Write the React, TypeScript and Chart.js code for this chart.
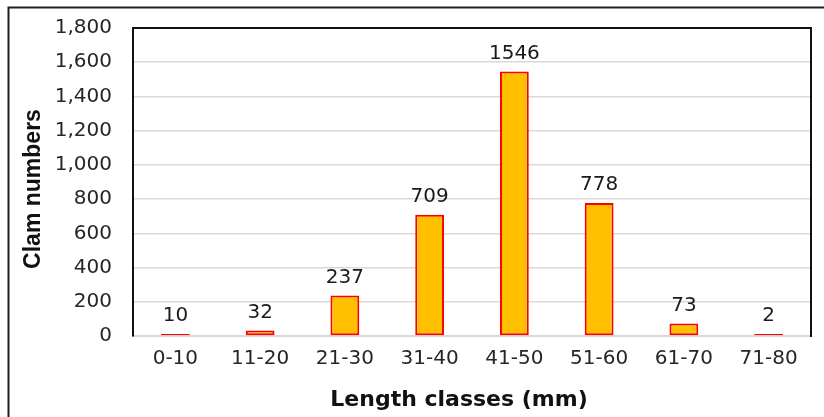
import React, { useEffect, useRef } from "react";
import { Chart, registerables } from "chart.js";

Chart.register(...registerables);

const categories = ["0-10", "11-20", "21-30", "31-40", "41-50", "51-60", "61-70", "71-80"];
const clamNumbers = [10, 32, 237, 709, 1546, 778, 73, 2];
const yMin = 0;
const yMax = 1800;
const yStep = 200;
const xTitle = "Length classes (mm)";
const yTitle = "Clam numbers";

const framePlugin = {
  id: "framePlugin",
  beforeDraw(chart: any) {
    const ctx = chart.ctx;
    ctx.save();
    ctx.fillStyle = "#ffffff";
    ctx.fillRect(0, 0, chart.width, chart.height);
    ctx.restore();
  },
  beforeDatasetsDraw(chart: any) {
    const { ctx, chartArea } = chart;
    ctx.save();
    ctx.strokeStyle = "#111111";
    ctx.lineWidth = 2;
    ctx.beginPath();
    ctx.moveTo(chartArea.left, chartArea.top);
    ctx.lineTo(chartArea.right, chartArea.top);
    ctx.lineTo(chartArea.right, chartArea.bottom + 1);
    ctx.stroke();
    ctx.restore();
  },
  afterDraw(chart: any) {
    const { ctx, chartArea } = chart;
    ctx.save();
    ctx.strokeStyle = "#1e1e1e";
    ctx.lineWidth = 2;
    ctx.beginPath();
    ctx.moveTo(chart.width + 2, 7.5);
    ctx.lineTo(8.5, 7.5);
    ctx.lineTo(8.5, chart.height + 2);
    ctx.stroke();
    ctx.fillStyle = "#111111";
    ctx.textAlign = "center";
    ctx.textBaseline = "middle";
    ctx.font = "bold 22px 'DejaVu Sans'";
    ctx.fillText(xTitle, (chartArea.left + chartArea.right) / 2 - 13, 400);
    ctx.translate(33.5, (chartArea.top + chartArea.bottom) / 2 + 7);
    ctx.rotate(-Math.PI / 2);
    ctx.font = "bold 23px 'Liberation Sans'";
    ctx.fillText(yTitle, 0, 0);
    ctx.restore();
  },
};

const valueLabelPlugin = {
  id: "valueLabelPlugin",
  afterDatasetsDraw(chart: any) {
    const ctx = chart.ctx;
    const meta = chart.getDatasetMeta(0);
    ctx.save();
    ctx.font = "20px 'DejaVu Sans'";
    ctx.fillStyle = "#1a1a1a";
    ctx.textAlign = "center";
    ctx.textBaseline = "middle";
    meta.data.forEach((el: any, i: number) => {
      ctx.fillText(String(clamNumbers[i]), el.x, el.y - 18);
    });
    ctx.restore();
  },
};

export default function App() {
  const ref = useRef<HTMLCanvasElement>(null);
  useEffect(() => {
    if (!ref.current) return;
    const chart = new Chart(ref.current, {
      type: "bar",
      data: {
        labels: categories,
        datasets: [
          {
            data: clamNumbers,
            backgroundColor: "#FFC000",
            borderColor: "#FF0000",
            borderWidth: 2,
            borderSkipped: false,
            minBarLength: 2,
            barPercentage: 0.34,
            categoryPercentage: 1,
          },
        ],
      },
      options: {
        responsive: false,
        animation: false,
        layout: { padding: { top: 28, right: 13, left: 0, bottom: 0 } },
        plugins: {
          legend: { display: false },
          tooltip: { enabled: false },
        },
        scales: {
          x: {
            grid: { display: false, drawTicks: false },
            border: { color: "#d9d9d9", width: 2 },
            ticks: {
              color: "#262626",
              font: { family: "'DejaVu Sans'", size: 20 },
              padding: 11,
              maxRotation: 0,
              autoSkip: false,
            },
            afterFit(scale: any) {
              scale.height = 81;
            },
          },
          y: {
            min: yMin,
            max: yMax,
            grid: { color: "#d9d9d9", lineWidth: 1.5, drawTicks: false },
            border: { color: "#111111", width: 2 },
            ticks: {
              stepSize: yStep,
              color: "#262626",
              font: { family: "'DejaVu Sans'", size: 20 },
              padding: 21,
            },
            afterFit(scale: any) {
              scale.width = 133;
              scale.paddingTop = 0;
              scale.paddingBottom = 0;
            },
          },
        },
      },
      plugins: [framePlugin, valueLabelPlugin],
    });
    return () => chart.destroy();
  }, []);
  return (
    <div style={{ position: "fixed", left: 0, top: 0, width: 824, height: 417, background: "#fff" }}>
      <canvas ref={ref} width={824} height={417} style={{ display: "block" }} />
    </div>
  );
}
